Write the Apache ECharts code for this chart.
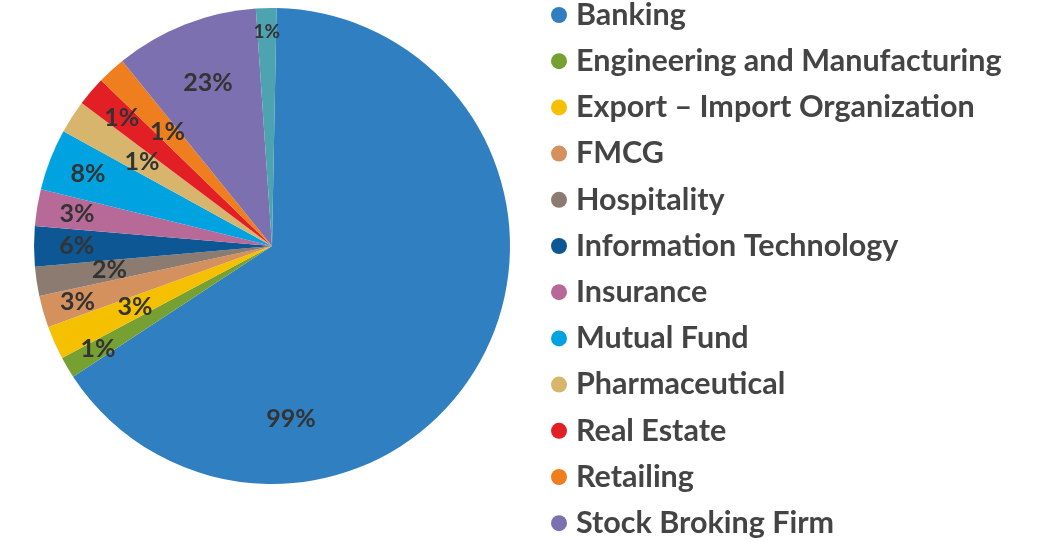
<!DOCTYPE html>
<html>
<head>
<meta charset="utf-8">
<style>
    html, body { margin: 0; padding: 0; background: #fff; }
    #chart { width: 1053px; height: 542px; }
</style>
<script src="https://cdn.jsdelivr.net/npm/echarts@6/dist/echarts.min.js"></script>
</head>
<body>
<div id="chart"></div>
<script>
// sectors (slice sizes)
const categories = ['Banking', 'Engineering and Manufacturing', 'Export – Import Organization', 'FMCG',
    'Hospitality', 'Information Technology', 'Insurance', 'Mutual Fund', 'Pharmaceutical',
    'Real Estate', 'Retailing', 'Stock Broking Firm', 'Telecom']
const sliceValues = [235.6, 5.2, 8.2, 7.8, 7.1, 9.8, 9.0, 15.0, 8.1, 7.2, 6.9, 35.1, 5.0]
// the percentages printed on the slices
const shownPct = [99, 1, 3, 3, 2, 6, 3, 8, 1, 1, 1, 23, 1]

const colors = ['#2f7fc1', '#77a033', '#f5c000', '#d4915e', '#8b7b70', '#0c5794', '#b76a98',
    '#00a2e0', '#d8b56d', '#e31f26', '#ef7f1e', '#7c70b0', '#4ea3b0']

// label placement (fraction of radius, angle shift in degrees) - excel "best fit" look
const labelRadius = [0.73, 0.85, 0.63, 0.85, 0.69, 0.82, 0.83, 0.83, 0.65, 0.83, 0.65, 0.735, 0.9]
const labelShift = [54.8, 0, 0, 0, 0, 0, 0, 0, 0, 0, 0, 0, 0]

const cx = 272, cy = 246, R = 238
const font = 'Lato, "Noto Sans", sans-serif'

const chartObj = echarts.init(document.getElementById('chart'))

const option = {
    backgroundColor: '#fff',
    animation: false,
    color: colors,
    legend: {
        data: categories,
        orient: 'vertical',
        left: 546,
        top: -6,
        height: 800,
        icon: 'circle',
        itemWidth: 16,
        itemHeight: 16,
        itemGap: 14.2,
        selectedMode: false,
        textStyle: {
            fontFamily: font,
            fontWeight: 'bold',
            fontSize: 30.5,
            lineHeight: 32,
            color: '#444',
            padding: [0, 0, 0, 4]
        }
    },
    series: [{
        type: 'pie',
        center: [cx, cy],
        radius: R,
        startAngle: 88.9,
        clockwise: true,
        avoidLabelOverlap: false,
        emphasis: {disabled: true},
        itemStyle: {borderWidth: 0},
        label: {
            show: true,
            position: 'inside',
            fontFamily: font,
            fontWeight: 'bold',
            fontSize: 25,
            color: '#333',
            formatter: p => shownPct[p.dataIndex] + '%'
        },
        labelLine: {show: false},
        labelLayout: params => {
            const i = params.dataIndex
            const r = params.labelRect
            // default inside label sits on the mid angle, use it for the direction
            let dx = r.x + r.width / 2 - cx
            let dy = r.y + r.height / 2 - cy
            const len = Math.sqrt(dx * dx + dy * dy) || 1
            dx /= len
            dy /= len
            const a = labelShift[i] * Math.PI / 180
            const rx = dx * Math.cos(a) - dy * Math.sin(a)
            const ry = dx * Math.sin(a) + dy * Math.cos(a)
            return {
                x: cx + rx * R * labelRadius[i],
                y: cy + ry * R * labelRadius[i]
            }
        },
        data: categories.map((name, i) => {
            const item = {name: name, value: sliceValues[i]}
            if (i === 12) {
                item.label = {fontSize: 19}
            }
            return item
        })
    }]
}

chartObj.setOption(option)
</script>
</body>
</html>
